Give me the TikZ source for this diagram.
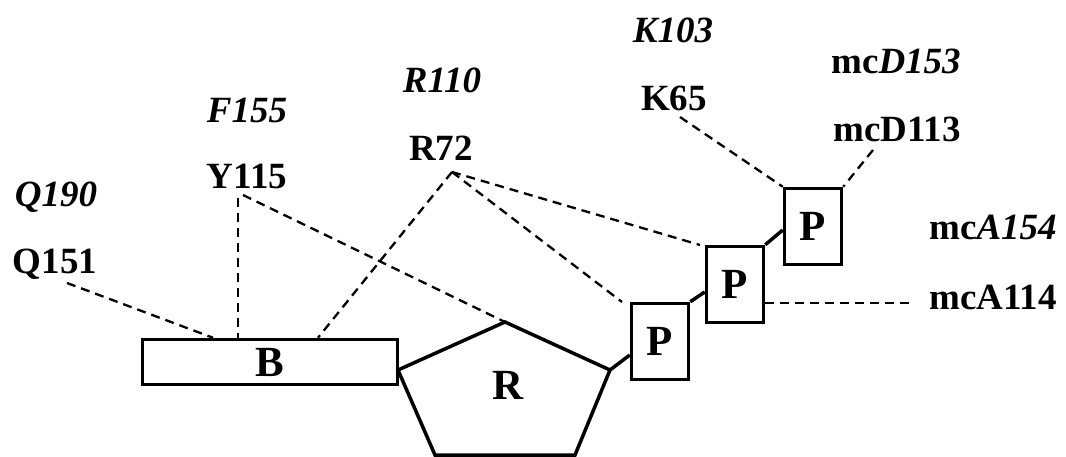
\documentclass[tikz,border=0pt]{standalone}
\usepackage{fontspec}
\setmainfont{Liberation Serif}
\begin{document}
\begin{tikzpicture}[x=1pt,y=-1pt,
  lbl/.style={font=\fontsize{37}{40}\selectfont\bfseries, inner sep=0pt},
  ilbl/.style={font=\fontsize{37}{40}\selectfont\bfseries\itshape, inner sep=0pt},
  box/.style={draw, line width=3.5pt, inner sep=0pt, font=\fontsize{43}{46}\selectfont\bfseries},
  pbox/.style={box, minimum width=57pt, minimum height=76pt},
  link/.style={line width=3.5pt},
  dline/.style={line width=2.3pt, dash pattern=on 9pt off 6pt}]
\useasboundingbox (0,0) rectangle (1066,457);
% labels
\node[ilbl] (Q190) at (56,197) {Q190};
\node[lbl] (Q151) at (55,264) {Q151};
\node[ilbl] (F155) at (247,110) {F155};
\node[lbl] (Y115) at (247,176) {Y115};
\node[ilbl] (R110) at (442,80) {R110};
\node[lbl] (R72) at (441,148) {R72};
\node[ilbl] (K103) at (673,30) {K103};
\node[lbl] (K65) at (674,98) {K65};
\node[lbl] (mcD153) at (896,61) {mc\textit{D153}};
\node[lbl] (mcD113) at (897,129) {mcD113};
\node[lbl] (mcA154) at (993,227) {mc\textit{A154}};
\node[lbl] (mcA114) at (993,297) {mcA114};
% shapes
\node[box, minimum width=255pt, minimum height=45pt] (B) at (270,362) {B};
\coordinate (pl) at (398,370);
\coordinate (pt) at (505,322);
\coordinate (pr) at (610,370);
\coordinate (pbr) at (575,455);
\coordinate (pbl) at (435,455);
\draw[line width=3.5pt, line join=miter] (pl) -- (pt) -- (pr) -- (pbr) -- (pbl) -- cycle;
\node[font=\fontsize{43}{46}\selectfont\bfseries] (R) at (508,385) {R};
\node[pbox] (P1) at (660,341.5) {P};
\node[pbox] (P2) at (735,284.5) {P};
\node[pbox] (P3) at (813,226.5) {P};
% solid links
\draw[link] (pr) -- (P1.west |- 0,355);
\draw[link] (P1.north east) -- (P2.west |- 0,292);
\draw[link] (P2.north east) -- (P3.west |- 0,230);
% dashed connectors
\coordinate (q151a) at (67,283);
\coordinate (y115a) at (238,198);
\coordinate (y115b) at (243,195);
\coordinate (r72a) at (452,172);
\coordinate (k65a) at (680,117);
\coordinate (mcd113a) at (873,150);
\coordinate (mca114a) at (912,303);
\draw[dline] (q151a) -- (B.north west -| 213,0);
\draw[dline] (y115a) -- (B.north west -| 238,0);
\draw[dline] (y115b) -- (pt);
\draw[dline] (r72a) -- (B.north west -| 318,0);
\draw[dline] (r72a) -- (622,302);
\draw[dline] (r72a) -- (700,245);
\draw[dline] (k65a) -- (P3.north west);
\draw[dline] (mcd113a) -- (P3.north east);
\draw[dline] (P2.east |- 0,303) -- (mca114a);
\end{tikzpicture}
\end{document}
